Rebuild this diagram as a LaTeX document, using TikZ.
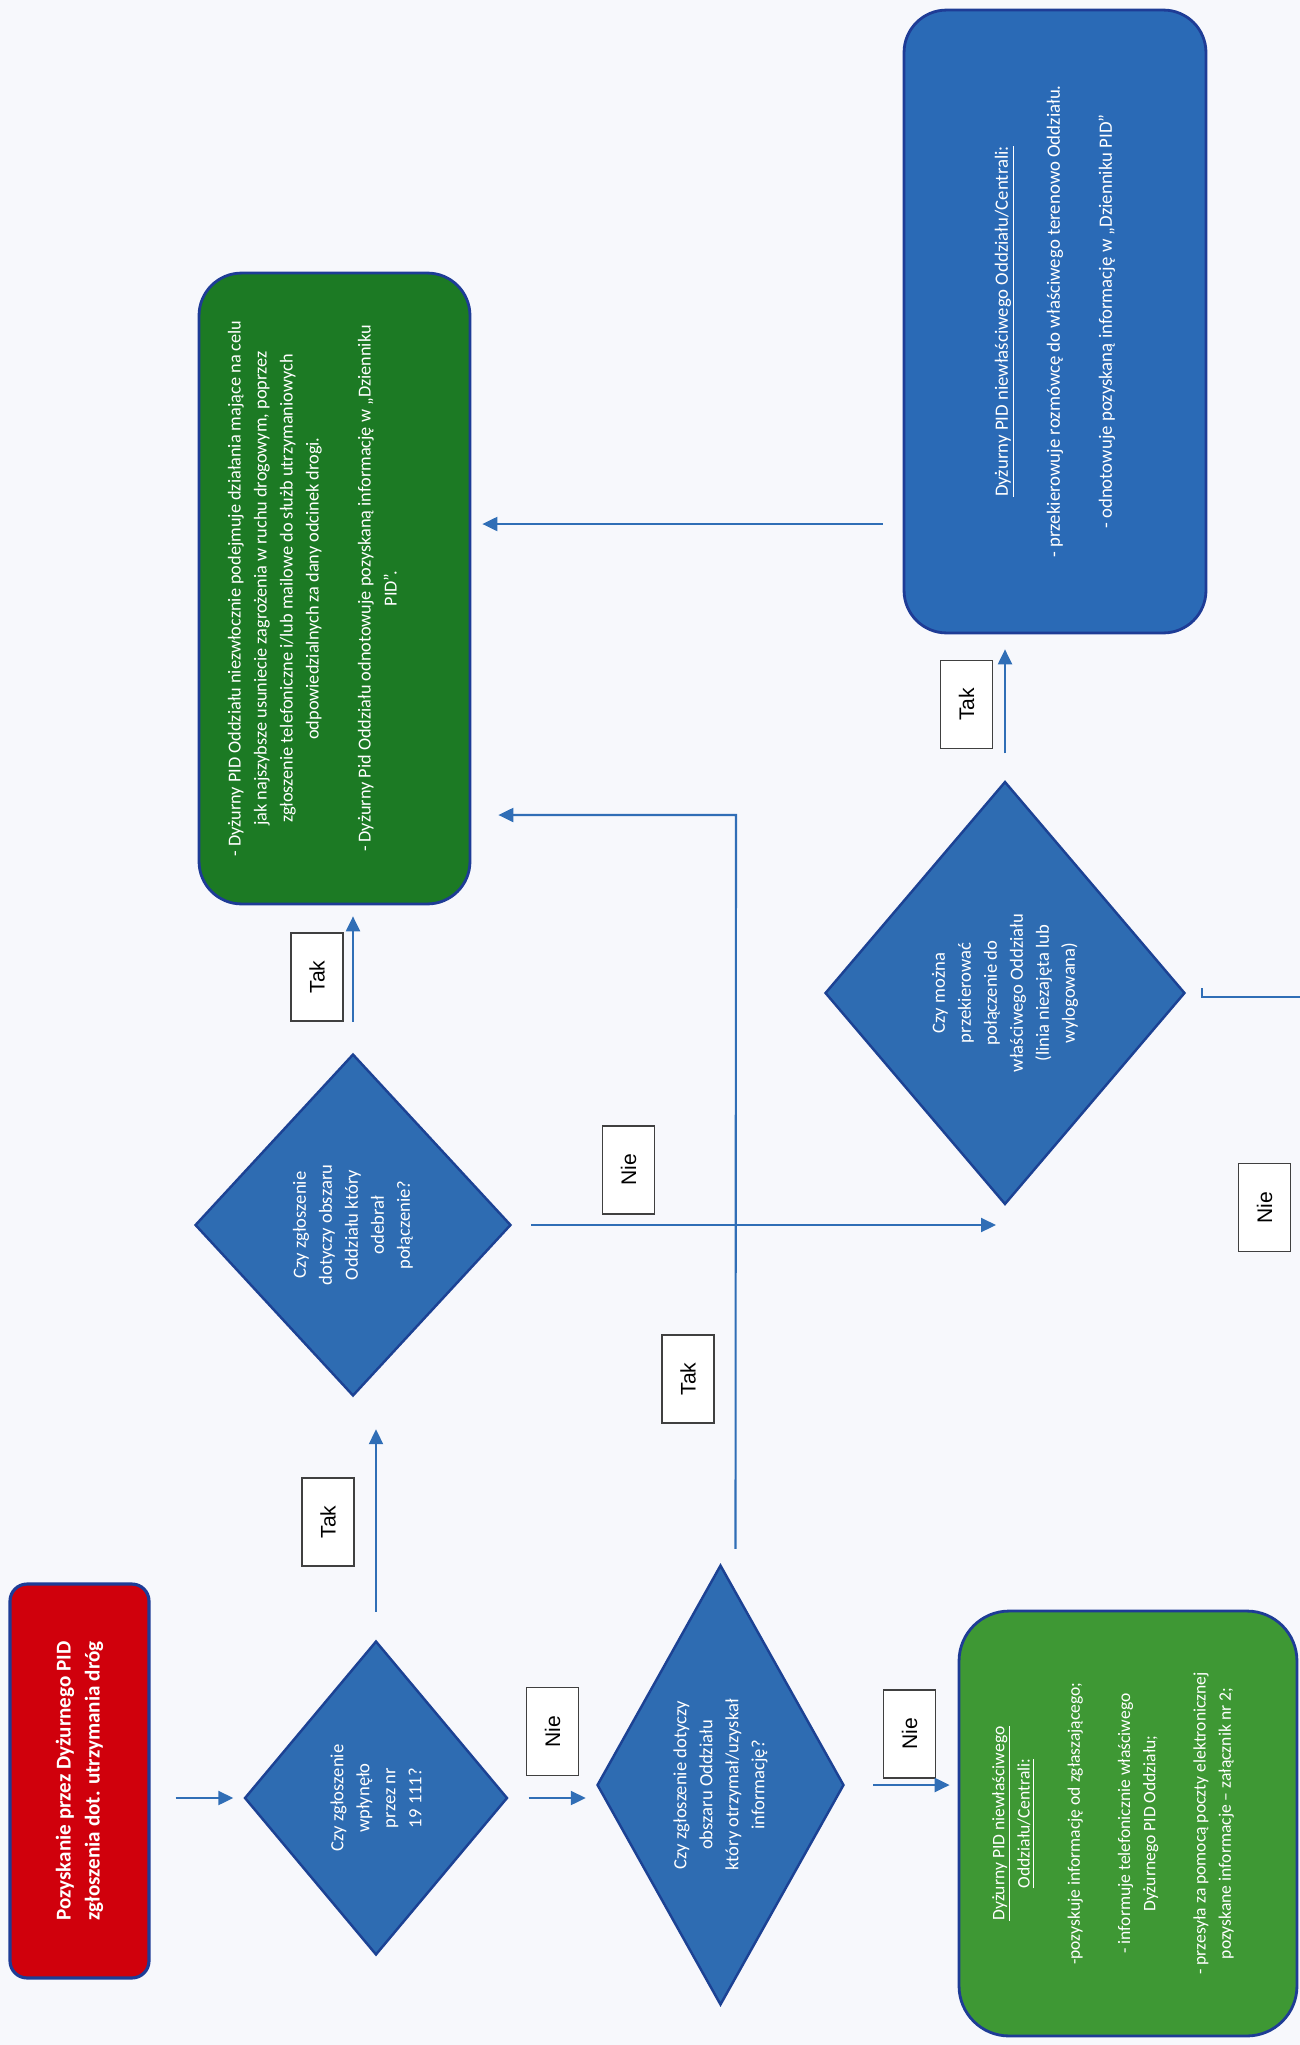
\documentclass[tikz,border=0pt]{standalone}
\usepackage{fontspec}
\setmainfont{Carlito}
\newfontfamily\labelfont{Liberation Sans}
\usetikzlibrary{shapes.geometric,arrows.meta,calc}
\definecolor{bgc}{RGB}{247,248,252}
\definecolor{arrowc}{RGB}{48,110,182}
\definecolor{dfill}{RGB}{46,108,178}
\definecolor{dborder}{RGB}{28,66,148}
\definecolor{redfill}{RGB}{208,0,12}
\definecolor{gdark}{RGB}{28,122,36}
\definecolor{glight}{RGB}{62,152,52}
\definecolor{bfill}{RGB}{42,106,182}
\definecolor{boxborder}{RGB}{30,60,150}
\begin{document}
\begin{tikzpicture}[x=0.02cm,y=-0.02cm,
  decision/.style={diamond, draw=dborder, line width=1.4pt, fill=dfill, text=white,
    rotate=90, inner sep=0pt, align=center, font=\fontsize{10.6}{14.8}\selectfont},
  procbox/.style={rectangle, draw=boxborder, line width=1.6pt, text=white,
    rotate=90, inner sep=0pt, align=center, font=\fontsize{10.4}{14.8}\selectfont},
  tagbox/.style={rectangle, draw=black!75, line width=0.9pt, fill=white, rotate=90,
    inner sep=0pt, minimum width=1.76cm, minimum height=1.04cm,
    font=\labelfont\fontsize{12}{14}\selectfont},
  arr/.style={draw=arrowc, line width=1.2pt, -{Triangle[length=0.3cm,width=0.28cm]}},
  plainline/.style={draw=arrowc, line width=1.2pt}]
\useasboundingbox[fill=bgc] (0,0) rectangle (1300,2045);

% nodes
\node[procbox, fill=redfill, draw=boxborder, line width=1.8pt, minimum width=7.88cm, minimum height=2.78cm,
  rounded corners=0.34cm, font=\bfseries\fontsize{12}{16.5}\selectfont] (start) at (79.5,1781)
  {Pozyskanie przez Dyżurnego PID\\zgłoszenia dot. utrzymania dróg};

\node[decision, minimum width=6.28cm, minimum height=5.26cm, aspect=1.19] (d1) at (376,1798)
  {Czy zgłoszenie\\wpłynęło\\przez nr\\19 111?};
\node[decision, minimum width=6.84cm, minimum height=6.32cm, aspect=1.08] (d2) at (353,1225)
  {Czy zgłoszenie\\dotyczy obszaru\\Oddziału który\\odebrał\\połączenie?};
\node[decision, minimum width=8.8cm, minimum height=4.94cm, aspect=1.78] (d3) at (720.5,1785)
  {Czy zgłoszenie dotyczy\\obszaru Oddziału\\który otrzymał/uzyskał\\informację?};
\node[decision, minimum width=8.46cm, minimum height=7.2cm, aspect=1.175] (d4) at (1005,993)
  {Czy można\\przekierować\\połączenie do\\właściwego Oddziału\\(linia niezajęta lub\\wylogowana)};

\node[procbox, fill=gdark, minimum width=12.62cm, minimum height=5.42cm, rounded corners=0.85cm] (g1) at (334.5,588.5)
  {- Dyżurny PID Oddziału niezwłocznie podejmuje działania mające na celu\\
   jak najszybsze usuniecie zagrożenia w ruchu drogowym, poprzez\\
   zgłoszenie telefoniczne i/lub mailowe do służb utrzymaniowych\\
   odpowiedzialnych za dany odcinek drogi.\\[14.8pt]
   - Dyżurny Pid Oddziału odnotowuje pozyskaną informację w „Dzienniku\\
   PID”.\\[6pt]\strut};

\node[procbox, fill=glight, minimum width=8.5cm, minimum height=6.76cm, rounded corners=1cm,
  font=\fontsize{10}{14.4}\selectfont] (g2) at (1128,1823.5)
  {\underline{Dyżurny PID niewłaściwego}\\
   \underline{Oddziału/Centrali:}\\[14.2pt]
   -pozyskuje informację od zgłaszającego;\\[14.2pt]
   - informuje telefonicznie właściwego\\
   Dyżurnego PID Oddziału;\\[14.2pt]
   - przesyła za pomocą poczty elektronicznej\\
   pozyskane informacje – załącznik nr 2;\\\strut};

\node[procbox, fill=bfill, minimum width=12.46cm, minimum height=6.04cm, rounded corners=0.85cm,
  font=\fontsize{10.7}{14.8}\selectfont] (bl) at (1055,321.5)
  {\underline{Dyżurny PID niewłaściwego Oddziału/Centrali:}\\[14.8pt]
   - przekierowuje rozmówcę do właściwego terenowo Oddziału.\\[14.8pt]
   - odnotowuje pozyskaną informację w „Dzienniku PID”};

\node[tagbox] (t1) at (328,1522) {Tak};
\node[tagbox] (t2) at (317,977) {Tak};
\node[tagbox] (t3) at (688,1379) {Tak};
\node[tagbox] (t4) at (966.5,704.5) {Tak};
\node[tagbox] (n1) at (552.5,1731.5) {Nie};
\node[tagbox] (n2) at (909.5,1734) {Nie};
\node[tagbox] (n3) at (628.5,1170) {Nie};
\node[tagbox] (n4) at (1264.5,1207.5) {Nie};

% connectors
\draw[arr, shorten <=0.5cm, shorten >=0.2cm] (start.south |- d1.north) -- (d1.north);
\draw[arr, shorten <=0.4cm, shorten >=0.2cm] (d1.south) -- (d1.south -| d3.north);
\draw[arr, shorten <=0.56cm, shorten >=0.16cm] (d3.south) -- (d3.south -| g2.north);
\draw[arr, shorten <=0.56cm, shorten >=0.64cm] (d1.east) -- (d1.east |- d2.west);
\draw[arr, shorten <=0.62cm, shorten >=0.22cm] (d2.east) -- (d2.east |- g1.west);
\draw[arr, shorten <=0.38cm, shorten >=0.18cm] (d2.south) -- (d2.south -| d4.west);
\coordinate (c6) at (736,815);
\draw[arr, shorten >=0.54cm] ([xshift=0.3cm,yshift=0.3cm]d3.east) -- (c6) -- (c6 -| g1.south);
\draw[arr, shorten <=0.54cm, shorten >=0.3cm] (d4.east) -- (d4.east |- bl.west);
\coordinate (c8) at (900,524);
\draw[arr, shorten <=0.4cm, shorten >=0.22cm] (bl.north |- c8) -- (g1.south |- c8);
\coordinate (c9) at (1300,997);
\draw[plainline] ([xshift=0.32cm,yshift=0.1cm]d4.south) |- (c9);
\end{tikzpicture}
\end{document}
